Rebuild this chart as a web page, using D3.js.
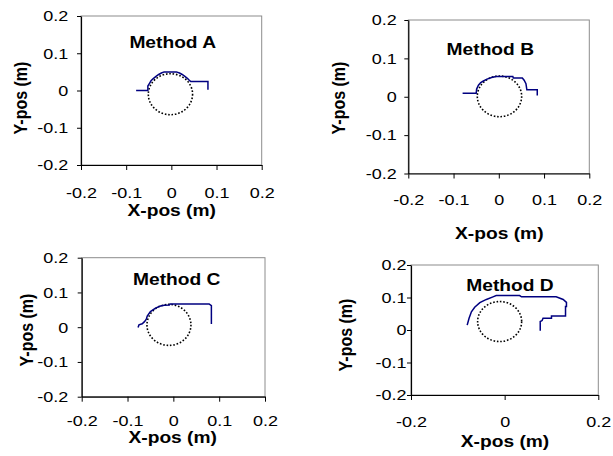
<!DOCTYPE html>
<html>
<head>
<meta charset="utf-8">
<script src="https://cdn.jsdelivr.net/npm/d3@7"></script>
<style>
  body { margin: 0; background: #fff; }
  svg text { font-family: "Liberation Sans", Arial, sans-serif; fill: #000; }
</style>
</head>
<body>
<svg id="chart" width="613" height="456"></svg>
<script>
// tick values
const ticksFine = [-0.2, -0.1, 0, 0.1, 0.2];
const ticksCoarse = [-0.2, 0, 0.2];

// end-effector tracks [x, y] in metres
const trackA = [[-0.078, 0], [-0.052, 0], [-0.052, 0.012], [-0.048, 0.02], [-0.045, 0.026],
    [-0.04, 0.032], [-0.034, 0.038], [-0.028, 0.043], [-0.022, 0.047], [-0.016, 0.05],
    [0.011, 0.05], [0.018, 0.047], [0.024, 0.043], [0.03, 0.038], [0.036, 0.032],
    [0.04, 0.027], [0.043, 0.024], [0.081, 0.024], [0.081, 0.002]];
const trackB = [[-0.08, 0.009], [-0.05, 0.009], [-0.049, 0.02], [-0.045, 0.03],
    [-0.04, 0.037], [-0.034, 0.041], [-0.026, 0.046], [-0.016, 0.05], [-0.006, 0.053],
    [0.031, 0.053], [0.032, 0.049], [0.052, 0.049], [0.056, 0.043], [0.06, 0.034],
    [0.062, 0.018], [0.085, 0.018], [0.085, 0.003]];
const trackC = [[-0.077, -0.001], [-0.075, 0.007], [-0.068, 0.01], [-0.063, 0.016],
    [-0.059, 0.023], [-0.057, 0.032], [-0.05, 0.045], [-0.039, 0.055], [-0.028, 0.061],
    [-0.02, 0.063], [-0.009, 0.064], [-0.007, 0.067], [0.078, 0.067], [0.083, 0.062],
    [0.083, 0.009]];
const trackD = [[-0.08, 0.015], [-0.076, 0.036], [-0.071, 0.056], [-0.064, 0.07],
    [-0.053, 0.084], [-0.039, 0.094], [-0.025, 0.102], [-0.018, 0.106], [0.032, 0.106],
    [0.036, 0.102], [0.11, 0.102], [0.125, 0.094], [0.132, 0.085], [0.132, 0.072],
    [0.13, 0.072], [0.13, 0.043], [0.1, 0.043], [0.1, 0.036], [0.082, 0.036],
    [0.08, 0.029], [0.076, 0.026], [0.076, -0.002]];

// obstacle circles: [cx, cy, rx, ry] in metres
const circleA = [-0.002, -0.01, 0.049, 0.055];
const circleB = [0.0015, 0.001, 0.049, 0.053];
const circleC = [-0.0096, 0.0066, 0.048, 0.059];
const circleD = [-0.0107, 0.026, 0.047, 0.0615];

const panels = [
    { name: "Method A", track: trackA, circle: circleA, xTicks: ticksFine,
      left: 81, right: 261.7, top: 16, bottom: 165, yPad: 8.7, xPad: 17,
      xTitle: [171.7, 210], yTitle: [20, 98], label: [172.7, 42] },
    { name: "Method B", track: trackB, circle: circleB, xTicks: ticksFine,
      left: 408.3, right: 589.3, top: 20, bottom: 173.5, yPad: 7.6, xPad: 16.2,
      xTitle: [499.3, 233], yTitle: [338.3, 98], label: [490.3, 49] },
    { name: "Method C", track: trackC, circle: circleC, xTicks: ticksFine,
      left: 81.7, right: 265, top: 257.7, bottom: 396.7, yPad: 9.4, xPad: 13.7,
      xTitle: [172.7, 437.7], yTitle: [26.7, 330], label: [176.7, 279.5] },
    { name: "Method D", track: trackD, circle: circleD, xTicks: ticksCoarse,
      left: 411, right: 598.3, top: 265, bottom: 395, yPad: 0.5, xPad: 16.4,
      xTitle: [505, 441.7], yTitle: [345, 335], label: [510, 285] }
];

const svg = d3.select("#chart");
const stretch = 1.2;

panels.forEach(p => {
    const x = d3.scaleLinear().domain([-0.2, 0.2]).range([p.left, p.right]);
    const y = d3.scaleLinear().domain([-0.2, 0.2]).range([p.bottom, p.top]);
    const g = svg.append("g");

    // plot area border (grey top/right)
    g.append("rect")
        .attr("x", p.left).attr("y", p.top)
        .attr("width", p.right - p.left).attr("height", p.bottom - p.top)
        .attr("fill", "none").attr("stroke", "#8c8c8c").attr("stroke-width", 1);

    const xAxis = g.append("g")
        .attr("transform", `translate(0,${p.bottom})`)
        .call(d3.axisBottom(x).tickValues(p.xTicks).tickSize(5).tickSizeOuter(0)
            .tickPadding(p.xPad).tickFormat(d => String(d)));
    const yAxis = g.append("g")
        .attr("transform", `translate(${p.left},0)`)
        .call(d3.axisLeft(y).tickValues(ticksFine).tickSize(4).tickSizeOuter(0)
            .tickPadding(p.yPad).tickFormat(d => String(d)));

    [xAxis, yAxis].forEach(ax => {
        ax.select(".domain").attr("stroke", "#000").attr("stroke-width", 1.2);
        ax.selectAll(".tick line").attr("stroke", "#000");
        ax.selectAll("text")
            .attr("font-size", 15)
            .attr("font-family", "Liberation Sans, Arial, sans-serif")
            .attr("x", function () { return (+d3.select(this).attr("x") || 0) / stretch; })
            .attr("transform", `scale(${stretch},1)`);
    });

    // obstacle
    const c = p.circle;
    g.append("ellipse")
        .attr("cx", x(c[0])).attr("cy", y(c[1]))
        .attr("rx", x(c[0] + c[2]) - x(c[0]))
        .attr("ry", y(c[1]) - y(c[1] + c[3]))
        .attr("fill", "none").attr("stroke", "#000")
        .attr("stroke-width", 1.6).attr("stroke-dasharray", "1.6,1.8");

    // track
    g.append("path")
        .datum(p.track)
        .attr("d", d3.line().x(d => x(d[0])).y(d => y(d[1])))
        .attr("fill", "none").attr("stroke", "#000080").attr("stroke-width", 1.5);

    // titles
    g.append("text")
        .attr("transform", `translate(${p.label[0]},${p.label[1]}) scale(${stretch},1)`)
        .attr("text-anchor", "middle").attr("dy", "0.35em")
        .attr("font-size", 16).attr("font-weight", "bold")
        .text(p.name);
    g.append("text")
        .attr("transform", `translate(${p.xTitle[0]},${p.xTitle[1]}) scale(${stretch},1)`)
        .attr("text-anchor", "middle").attr("dy", "0.35em")
        .attr("font-size", 16).attr("font-weight", "bold")
        .text("X-pos (m)");
    g.append("text")
        .attr("transform", `translate(${p.yTitle[0]},${p.yTitle[1]}) scale(${stretch},1) rotate(-90)`)
        .attr("text-anchor", "middle").attr("dy", "0.35em")
        .attr("font-size", 16).attr("font-weight", "bold")
        .text("Y-pos (m)");
});
</script>
</body>
</html>
